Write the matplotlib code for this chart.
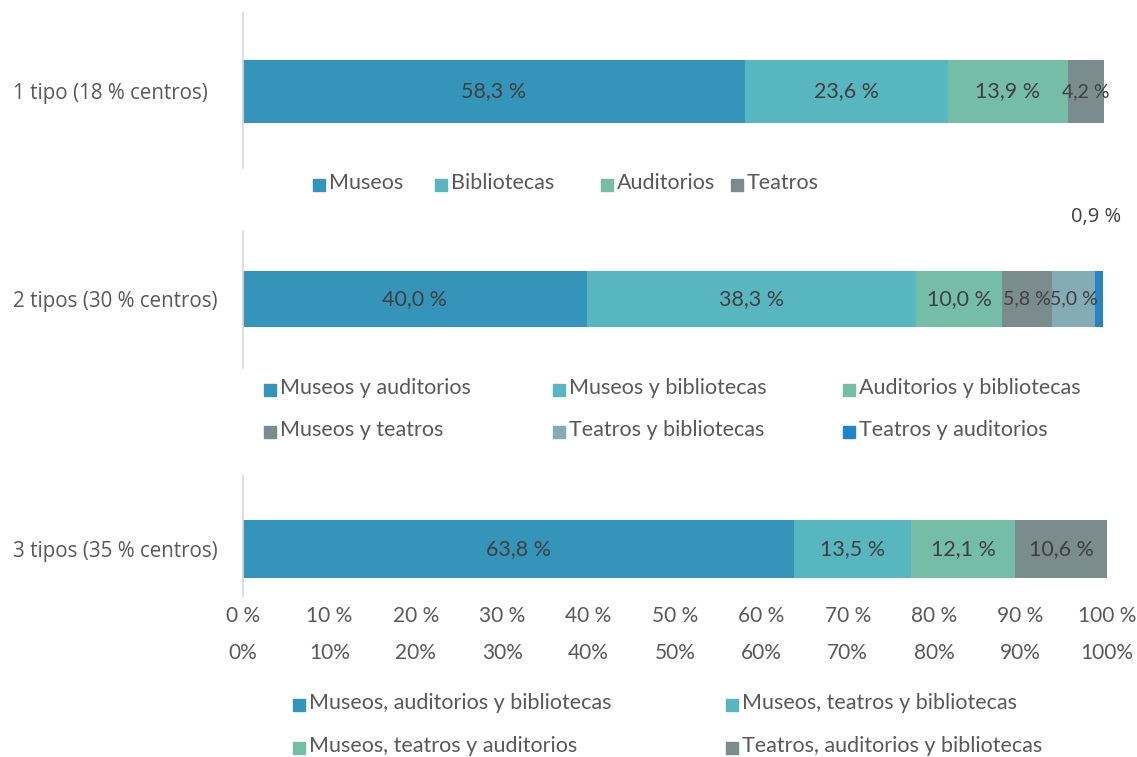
import matplotlib.pyplot as plt
from matplotlib.patches import Rectangle
from matplotlib.transforms import blended_transform_factory

# datos
filas = ["1 tipo (18 % centros)", "2 tipos (30 % centros)", "3 tipos (35 % centros)"]

cat1 = ["Museos", "Bibliotecas", "Auditorios", "Teatros"]
val1 = [58.3, 23.6, 13.9, 4.2]

cat2 = ["Museos y auditorios", "Museos y bibliotecas", "Auditorios y bibliotecas",
        "Museos y teatros", "Teatros y bibliotecas", "Teatros y auditorios"]
val2 = [40.0, 38.3, 10.0, 5.8, 5.0, 0.9]

cat3 = ["Museos, auditorios y bibliotecas", "Museos, teatros y bibliotecas",
        "Museos, teatros y auditorios", "Teatros, auditorios y bibliotecas"]
val3 = [63.8, 13.5, 12.1, 10.6]

ticks = list(range(0, 101, 10))

colores = ["#3494BA", "#58B6C0", "#75BDA7", "#7A8C8E", "#84ACB6", "#2683C6"]

W, H = 1137, 757
FUENTE = ["Lato", "DejaVu Sans"]
FUENTE_EJE = ["Open Sans", "DejaVu Sans"]
GRIS = "#595959"
T_LEY = 15.5
T_BARRA = 15.5
T_TICK = 15


def fmt(v):
    return f"{v:.1f} %".replace(".", ",")


def crear_eje(top, bottom, centro, alto, ancho=864):
    # top/bottom en pixeles de la imagen
    ax = fig.add_axes([243 / W, 1 - bottom / H, ancho / W, (bottom - top) / H])
    ax.set_xlim(0, 100)
    ax.set_ylim(-centro, 1 - centro)
    for s in ["top", "right", "bottom"]:
        ax.spines[s].set_visible(False)
    ax.spines["left"].set_color("#D9D9D9")
    ax.spines["left"].set_linewidth(1.2)
    ax.tick_params(axis="both", length=0)
    return ax, alto


def barra(ax, alto, fila, cats, vals, fuera=()):
    izq = 0
    for i, (c, v) in enumerate(zip(cats, vals)):
        ax.barh(0, v, left=izq, height=alto, color=colores[i], label=c)
        if i not in fuera:
            # los tramos estrechos con letra algo menor para que no se pisen
            ax.text(izq + v / 2, 0, fmt(v), ha="center", va="center",
                    fontsize=T_BARRA if v >= 6 else 14, color="#404040", family=FUENTE)
        izq += v
    ax.set_yticks([0])
    ax.set_yticklabels([fila], family=FUENTE_EJE, fontsize=14.8, color=GRIS, ha="left")
    ax.tick_params(axis="y", pad=(243 - 13) * 72 / 100)


def leyenda(cats, xs, ys, desde=0):
    k = 0
    for y in ys:
        for x in xs:
            if k >= len(cats):
                return
            fig.patches.append(Rectangle((x / W, 1 - (y + 8) / H), 12 / W, 12 / H,
                                         transform=fig.transFigure,
                                         color=colores[desde + k]))
            fig.text((x + 16) / W, 1 - y / H, cats[k], ha="left", va="center",
                     fontsize=T_LEY, color=GRIS, family=FUENTE)
            k += 1


fig = plt.figure(figsize=(W / 100, H / 100), dpi=100)

ax1, h1 = crear_eje(13, 168, 0.494, 0.406, ancho=861)
barra(ax1, h1, filas[0], cat1, val1)
ax1.set_xticks([])

ax2, h2 = crear_eje(231, 368, 0.504, 0.41, ancho=860)
barra(ax2, h2, filas[1], cat2, val2, fuera=(5,))
ax2.set_xticks([])
tr = blended_transform_factory(ax2.transData, ax2.transAxes)
ax2.text(sum(val2[:5]) + val2[5] / 2 - 0.3, (368 - 217) / 137, fmt(val2[5]),
         ha="center", va="center", fontsize=14.5, color="#404040",
         family=FUENTE_EJE, transform=tr)

ax3, h3 = crear_eje(476, 596, 0.392, 0.483)
barra(ax3, h3, filas[2], cat3, val3)
ax3.set_xticks(ticks)
ax3.set_xticklabels([f"{t} %" for t in ticks], fontsize=T_TICK, color=GRIS, family=FUENTE)
ax3.tick_params(axis="x", pad=7)
tr3 = blended_transform_factory(ax3.transData, ax3.transAxes)
for t in ticks:
    ax3.text(t, -(653 - 596) / 120, f"{t}%", ha="center", va="center",
             fontsize=T_TICK, color=GRIS, family=FUENTE, transform=tr3)

leyenda(cat1[:3], [313, 435, 601], [183])
leyenda(cat1[3:], [733 - 2], [183], desde=3)
leyenda(cat2, [264, 553, 843], [388, 430])
leyenda(cat3, [293, 726], [703, 746])

fig.savefig("out.png", dpi=100, facecolor="white")
